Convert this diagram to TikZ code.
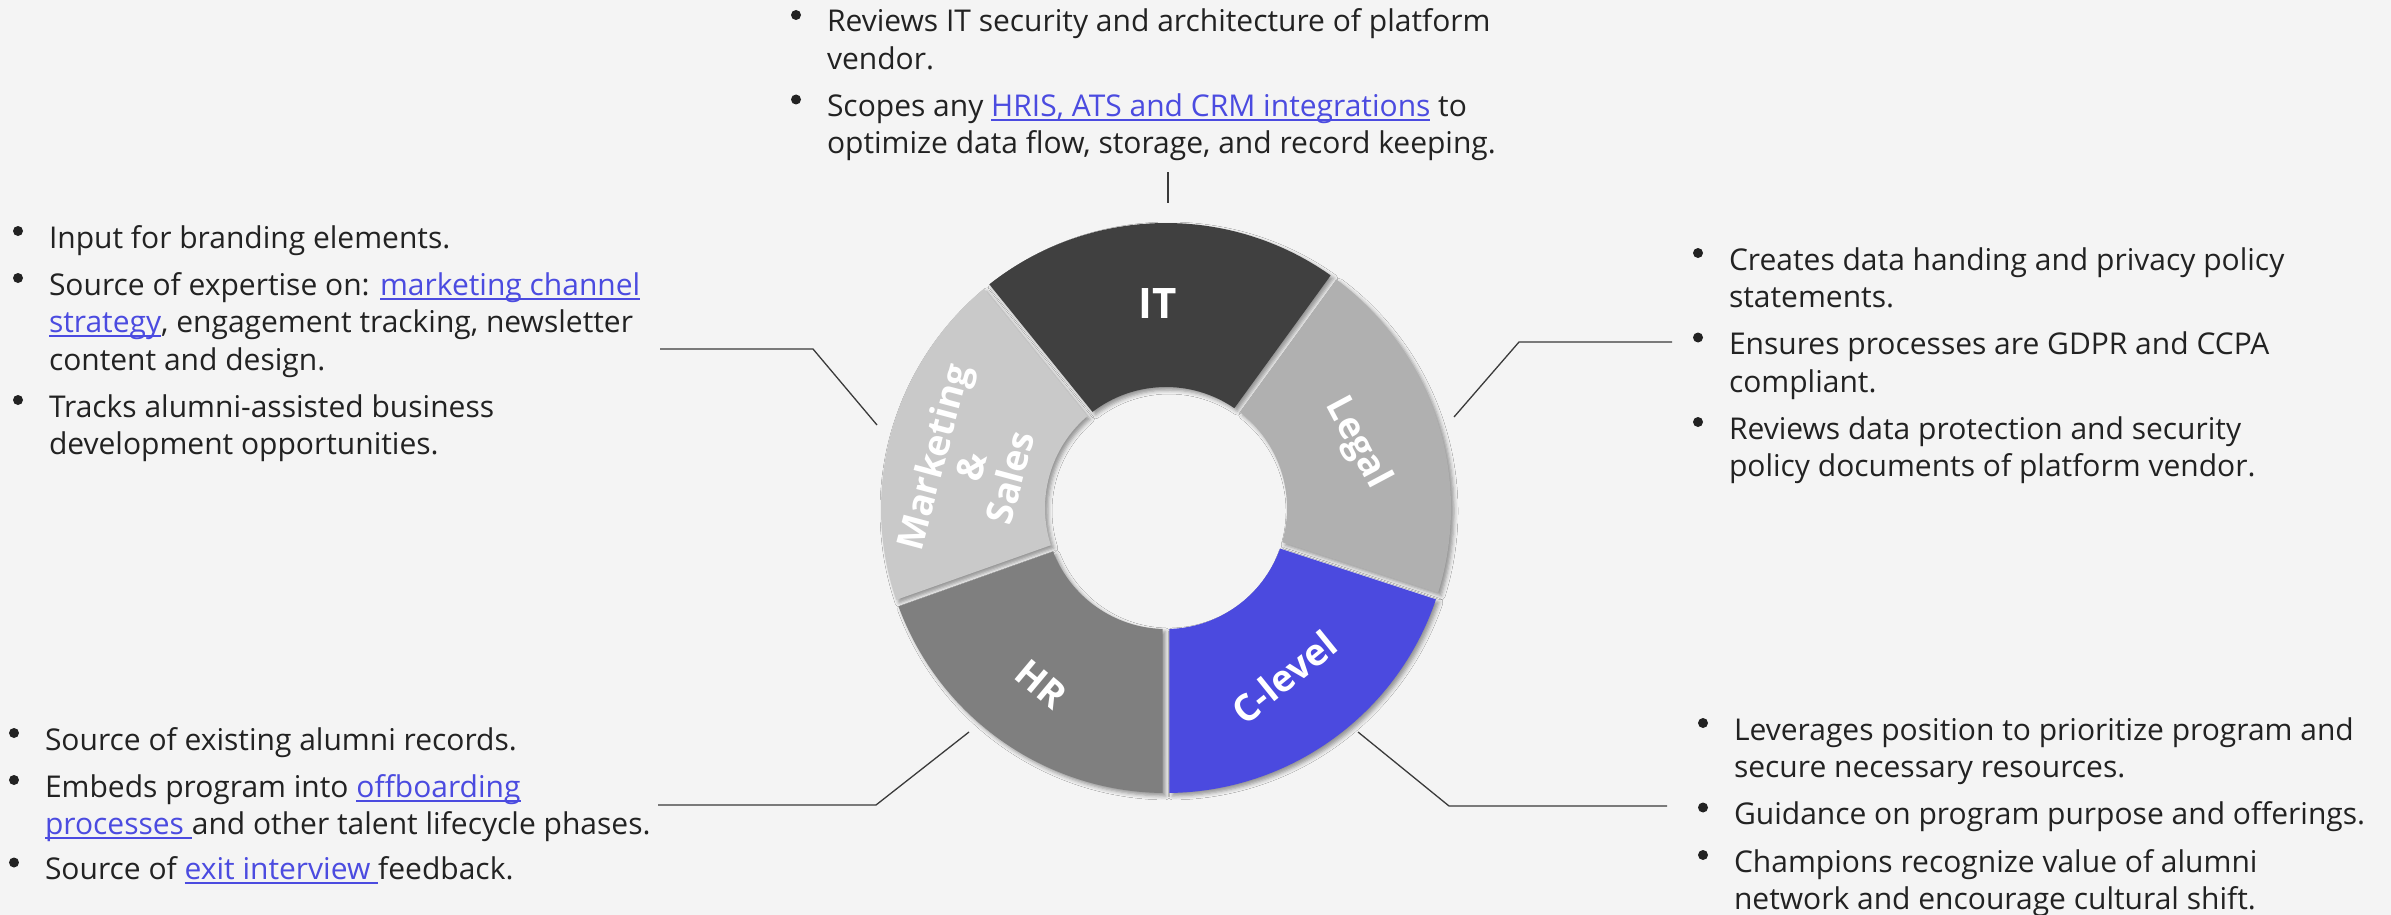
\documentclass[tikz,border=0pt]{standalone}
\usepackage{fontspec}
\setmainfont{Open Sans}
\usetikzlibrary{shadows.blur}
\definecolor{bgc}{HTML}{F4F4F4}
\definecolor{txtc}{HTML}{222222}
\definecolor{linkc}{HTML}{4B4BE0}
\definecolor{itc}{HTML}{404040}
\definecolor{mktc}{HTML}{C9C9C9}
\definecolor{hrc}{HTML}{7F7F7F}
\definecolor{clc}{HTML}{4B4ADF}
\definecolor{legc}{HTML}{B0B0B0}
\definecolor{linec}{HTML}{3A3A3A}
\newlength\lnkw
\newcommand\lnk[1]{\settowidth\lnkw{#1}\textcolor{linkc}{\rlap{\rule[-4.5pt]{\lnkw}{1.8pt}}#1}}
\newcommand\bul{\tikz[baseline=0pt]{\useasboundingbox (0pt,0pt) rectangle (10pt,22pt); \fill[txtc] (5pt,17pt) circle[radius=5pt];}}
\newcommand\segpath[2]{({#1+0.7}:285) arc[start angle={#1+0.7}, end angle={#2-0.7}, radius=285] -- ({#2-1.6}:121) arc[start angle={#2-1.6}, end angle={#1+1.6}, radius=121] -- cycle}
\tikzset{
  txtblock/.style={anchor=base west, inner sep=0pt, outer sep=0pt, font=\fontsize{30}{37.5}\selectfont, text=txtc},
  seglabel/.style={text=white, font=\fontsize{37}{40}\selectfont\bfseries, align=center, inner sep=0pt},
  segshadow/.style={blur shadow={shadow xshift=3pt, shadow yshift=-3pt, shadow blur radius=4pt, shadow opacity=40}},
  conn/.style={draw=linec, line width=1.3pt}
}
\begin{document}
\begin{tikzpicture}[x=1pt,y=-1pt]
\fill[bgc] (0,0) rectangle (2391,915);
\useasboundingbox (0,0) rectangle (2391,915);

% donut
\begin{scope}[shift={(1166,508)}, x=1pt, y=1pt]
  \path[segshadow] \segpath{54}{129};
  \path[segshadow] \segpath{129}{199.5};
  \path[segshadow] \segpath{199.5}{270};
  \path[segshadow] \segpath{270}{342};
  \path[segshadow] \segpath{342}{414};
  \fill[itc] \segpath{54}{129};
  \fill[mktc] \segpath{129}{199.5};
  \fill[hrc] \segpath{199.5}{270};
  \fill[clc] \segpath{270}{342};
  \fill[legc] \segpath{342}{414};
  \node[seglabel, font=\fontsize{42}{44}\selectfont\bfseries] (lit) at (-8,204) {IT};
  \node[seglabel, rotate=75] (lmkt) at (-195,41) {Marketing\\\&\\Sales};
  \node[seglabel, rotate=-62] (lleg) at (191,65) {Legal};
  \node[seglabel, rotate=-40] (lhr) at (-125,-176) {HR};
  \node[seglabel, rotate=39] (lcl) at (118,-169) {C-level};
\end{scope}

% text blocks
\node[txtblock] (tIT) at (791,32) {\begin{tabular}[t]{@{}l@{\hspace{26pt}}l@{}}
\bul & Reviews IT security and architecture of platform\\
 & vendor.\\[9.5pt]
\bul & Scopes any \lnk{HRIS, ATS and CRM integrations} to\\
 & optimize data flow, storage, and record keeping.
\end{tabular}};

\node[txtblock] (tMkt) at (13,248) {\begin{tabular}[t]{@{}l@{\hspace{26pt}}l@{}}
\bul & Input for branding elements.\\[9.5pt]
\bul & Source of expertise on: \lnk{marketing channel}\\
 & \lnk{strategy}, engagement tracking, newsletter\\
 & content and design.\\[9.5pt]
\bul & Tracks alumni-assisted business\\
 & development opportunities.
\end{tabular}};

\node[txtblock] (tHR) at (9,750) {\begin{tabular}[t]{@{}l@{\hspace{26pt}}l@{}}
\bul & Source of existing alumni records.\\[9.5pt]
\bul & Embeds program into \lnk{offboarding}\\
 & \lnk{processes\ }and other talent lifecycle phases.\\[7.5pt]
\bul & Source of \lnk{exit interview\ }feedback.
\end{tabular}};

\node[txtblock] (tLeg) at (1693,270) {\begin{tabular}[t]{@{}l@{\hspace{26pt}}l@{}}
\bul & Creates data handing and privacy policy\\
 & statements.\\[9.5pt]
\bul & Ensures processes are GDPR and CCPA\\
 & compliant.\\[9.5pt]
\bul & Reviews data protection and security\\
 & policy documents of platform vendor.
\end{tabular}};

\node[txtblock] (tCl) at (1698,740) {\begin{tabular}[t]{@{}l@{\hspace{26pt}}l@{}}
\bul & Leverages position to prioritize program and\\
 & secure necessary resources.\\[9.5pt]
\bul & Guidance on program purpose and offerings.\\[10pt]
\bul & Champions recognize value of alumni\\
 & network and encourage cultural shift.
\end{tabular}};

% connectors
\coordinate (cIT1) at (1168,172);
\coordinate (cIT2) at (1168,203);
\coordinate (cM1) at (660,349);
\coordinate (cM2) at (813,349);
\coordinate (cM3) at (877,425);
\coordinate (cL1) at (1672,342);
\coordinate (cL2) at (1519,342);
\coordinate (cL3) at (1454,417);
\coordinate (cH1) at (658,805);
\coordinate (cH2) at (876,805);
\coordinate (cH3) at (969,732);
\coordinate (cC1) at (1667,806);
\coordinate (cC2) at (1449,806);
\coordinate (cC3) at (1358,732);
\draw[conn] (cIT1) -- (cIT2);
\draw[conn] (cM1) -- (cM2) -- (cM3);
\draw[conn] (cL1) -- (cL2) -- (cL3);
\draw[conn] (cH1) -- (cH2) -- (cH3);
\draw[conn] (cC1) -- (cC2) -- (cC3);
\end{tikzpicture}
\end{document}
